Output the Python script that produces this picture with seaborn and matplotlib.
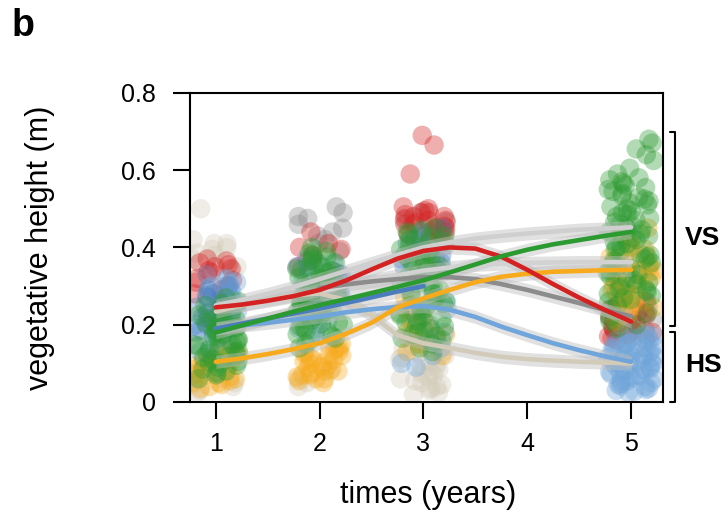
import numpy as np
import pandas as pd
import matplotlib
matplotlib.use("Agg")
import matplotlib.pyplot as plt
import seaborn as sns

# ---- survey times and group colours ----
times = [1, 2, 3, 5]
group_order = ["beige", "darkgrey", "red", "orange", "lightblue", "steelblue", "green"]
group_colors = {
    "beige": "#D3CBB9",
    "darkgrey": "#8C8C8C",
    "red": "#D42222",
    "orange": "#F7AA1C",
    "lightblue": "#6FA5DA",
    "steelblue": "#4B7DBE",
    "green": "#2B9A30",
    "pale1": "#CFCFCF",
    "pale2": "#D2D2D2",
}

# ---- vegetative height of individual plots (cm), per group and time ----
beige_cm = {
    1: [50, 42, 41, 40, 39.5, 38, 37, 36, 35, 34, 41, 38.5, 5, 4, 3, 6, 4.5, 2.5],
    2: [6, 5, 8, 4],
    3: [18, 17, 16, 15.5, 15, 14, 13.5, 13, 12, 11.5, 11, 10, 9.5, 9, 8, 7.5, 7, 6.5,
        6, 5, 4.5, 4, 3.5, 3, 2.5, 2, 12.5, 10.5, 8.5, 5.5, 16.5, 14.5],
    5: [19, 14, 10, 12, 17],
}
darkgrey_cm = {
    2: [50.5, 49, 47.5, 46, 45, 44, 43, 41, 39, 37.5, 48, 42],
    3: [49, 47, 45.5, 44, 42, 40.5, 38, 36, 46.5, 43, 39.5, 37],
    5: [26, 24.5, 23, 21.5, 20, 19, 18, 17, 16, 22, 25, 18.5],
}
red_cm = {
    1: [37, 36, 35.5, 34.5, 34, 33, 32, 31, 30, 29, 28, 35, 33.5, 31.5, 36.5],
    2: [44, 41, 39.5, 38, 36.5, 35, 33.5, 40],
    3: [69, 66.5, 59, 50.5, 50, 49.5, 49, 48.5, 48, 47.5, 47, 46.5, 46, 45.5, 45, 44.5,
        44, 43.5, 43, 49, 48, 47, 46, 45, 44],
    5: [26, 25, 24, 23.5, 23, 22, 21.5, 21, 20, 19.5, 19, 18.5, 18, 17, 16.5, 16, 22.5,
        20.5, 24.5, 17.5],
}
orange_cm = {
    1: [14, 13, 12.5, 12, 11, 10.5, 10, 9.5, 9, 8.5, 8, 7.5, 7, 6.5, 6, 5.5, 5, 4.5, 4,
        3.5, 11.5, 9, 7, 5, 13.5],
    2: [15, 14.5, 14, 13.5, 13, 12.5, 12, 11.5, 11, 10.5, 10, 9.5, 9, 8.5, 8, 7.5, 7,
        6.5, 6, 5.5, 5, 12, 10, 8, 6, 13, 9, 14, 11, 7],
    3: [27, 25, 23, 22, 21, 20, 19, 18, 17, 16, 15, 14, 13, 12, 24, 20.5, 17.5],
    5: [45, 43.5, 42, 41, 40, 39, 38, 37, 36.5, 36, 35, 34.5, 34, 33, 32.5, 32, 31, 30.5,
        30, 29, 28.5, 28, 27, 26.5, 26, 25, 24.5, 24, 23, 22, 21, 20, 35.5, 33.5, 31.5,
        29.5, 27.5, 25.5, 23.5, 37.5, 39.5, 30, 28, 26, 34],
}
lightblue_cm = {
    1: [33, 32, 31.5, 31, 30, 29.5, 29, 28, 27.5, 27, 26, 25.5, 25, 24, 23.5, 23, 22,
        21.5, 21, 20, 19.5, 19, 18, 17, 16, 15, 14, 13, 30.5, 28.5, 26.5, 24.5, 22.5,
        20.5, 18.5],
    2: [37, 36, 35, 34, 33, 32, 31, 30, 29, 28, 27, 26, 25, 24, 23, 22, 21, 20, 19, 18,
        17],
    3: [30, 28, 26, 24, 22, 20, 18, 16, 14, 12, 10, 9],
    5: [18, 17.5, 17, 16.5, 16, 15.5, 15, 14.5, 14, 13.5, 13, 12.5, 12, 11.5, 11, 10.5,
        10, 9.5, 9, 8.5, 8, 7.5, 7, 6.5, 6, 5.5, 5, 4.5, 4, 3.5, 3, 2.5, 16.8, 15.2,
        13.8, 12.2, 10.8, 9.2, 7.8, 6.2, 4.8, 3.2, 14.6, 11.4, 8.6, 5.4, 17.2, 2.8,
        12.8, 10.2, 7.2, 4.2, 15.8, 9.8, 6.8, 13.2, 11.8, 8.2],
}
steelblue_cm = {
    1: [30, 29, 28, 27, 26, 25, 24, 23, 22, 21, 20, 19, 18, 27.5, 24.5, 21.5],
    2: [36, 35, 34, 33, 32, 31, 30, 29, 28, 27, 26, 25, 24, 23],
    3: [45, 44, 43, 42, 41, 40, 39, 38, 37, 36, 35, 34, 33],
}
green_cm = {
    1: [27, 26, 25.5, 25, 24, 23.5, 23, 22, 21.5, 21, 20.5, 20, 19.5, 19, 18.5, 18,
        17.5, 17, 16.5, 16, 15.5, 15, 14.5, 14, 13.5, 13, 12.5, 12, 11.5, 11, 10.5, 10,
        9.5, 9, 8.5, 8, 7.5, 7, 6, 22.5, 19.2, 16.2, 13.2, 10.2, 14.8, 17.8, 11.8, 20.8],
    2: [40, 39, 38.5, 38, 37, 36.5, 36, 35, 34.5, 34, 33, 32.5, 32, 31, 30.5, 30, 29,
        28.5, 28, 27, 26.5, 26, 25, 24.5, 24, 23, 22.5, 22, 21, 20.5, 20, 19, 18.5, 18,
        17, 16.5, 16, 15, 14, 35.5, 31.5, 27.5, 23.5, 19.5, 33.5, 29.5, 25.5, 21.5,
        17.5, 37.5, 28.2, 24.2, 30.2, 34.2, 20.2, 26.2, 32.2],
    3: [45, 44.5, 44, 43, 42.5, 42, 41, 40.5, 40, 39, 38.5, 38, 37, 36.5, 36, 35, 34.5,
        34, 33, 32.5, 32, 31, 30.5, 30, 29, 28.5, 28, 27, 26.5, 26, 25, 24.5, 24, 23,
        22.5, 22, 21, 20.5, 20, 19, 18.5, 18, 17, 16.5, 16, 15, 14, 13, 41.5, 37.5,
        33.5, 29.5, 25.5, 21.5, 17.5, 39.5, 35.5, 31.5, 27.5, 23.5, 19.5, 43.5],
    5: [68, 67, 65.5, 64, 62.5, 60.5, 59, 58, 57.5, 57, 56, 55.5, 55, 54, 53.5, 53, 52,
        51.5, 51, 50, 49.5, 49, 48, 47.5, 47, 46, 45.5, 45, 44, 43.5, 43, 42, 41.5, 41,
        40, 39.5, 39, 38, 37.5, 37, 36, 35.5, 35, 34, 33.5, 33, 32, 31.5, 31, 30, 29.5,
        29, 28, 27.5, 27, 26, 25, 24, 23, 22, 21, 20, 19, 56.5, 52.5, 48.5, 44.5, 40.5,
        36.5, 32.5, 28.5, 54.5, 50.5, 46.5, 42.5, 38.5, 34.5, 30.5, 26.5],
}
heights_cm = {
    "beige": beige_cm, "darkgrey": darkgrey_cm, "red": red_cm, "orange": orange_cm,
    "lightblue": lightblue_cm, "steelblue": steelblue_cm, "green": green_cm,
}

# ---- smoothed trends (fitted height, m) ----
fit_grid = [1.0, 1.25, 1.5, 1.75, 2.0, 2.25, 2.5, 2.75, 3.0,
            3.25, 3.5, 3.75, 4.0, 4.25, 4.5, 4.75, 5.0]
fit_pale1 = [0.250, 0.264, 0.280, 0.298, 0.318, 0.339, 0.360, 0.381, 0.400,
             0.413, 0.423, 0.430, 0.436, 0.441, 0.446, 0.449, 0.452]
fit_pale2 = [0.285, 0.300, 0.315, 0.328, 0.340, 0.348, 0.355, 0.358, 0.360,
             0.361, 0.362, 0.362, 0.362]
fit_red = [0.245, 0.252, 0.262, 0.274, 0.290, 0.314, 0.343, 0.371, 0.391,
           0.400, 0.397, 0.376, 0.342, 0.305, 0.270, 0.238, 0.208]
fit_beige = [0.234, 0.250, 0.264, 0.276, 0.281, 0.264, 0.224, 0.173, 0.152,
             0.140, 0.127, 0.117, 0.111, 0.107, 0.104, 0.102, 0.100]
fit_lightblue = [0.190, 0.198, 0.205, 0.213, 0.221, 0.232, 0.240, 0.246, 0.248,
                 0.239, 0.220, 0.195, 0.173, 0.152, 0.134, 0.118, 0.104]
fit_green = [0.180, 0.198, 0.216, 0.234, 0.251, 0.266, 0.282, 0.298, 0.315,
             0.335, 0.356, 0.377, 0.394, 0.408, 0.419, 0.430, 0.440]
fit_orange = [0.104, 0.113, 0.124, 0.137, 0.152, 0.176, 0.205, 0.245, 0.268,
              0.290, 0.310, 0.324, 0.332, 0.337, 0.339, 0.341, 0.342]
fit_steelblue = [0.190, 0.203, 0.216, 0.229, 0.242, 0.256, 0.271, 0.286, 0.300]
fit_darkgrey = [0.295, 0.304, 0.312, 0.318, 0.323, 0.323, 0.318, 0.305, 0.290,
                0.273, 0.256, 0.238, 0.222]
ribbon_halfwidth = 0.017

fits = [
    ("pale1", fit_grid, fit_pale1),
    ("pale2", fit_grid[4:], fit_pale2),
    ("beige", fit_grid, fit_beige),
    ("lightblue", fit_grid, fit_lightblue),
    ("darkgrey", fit_grid[4:], fit_darkgrey),
    ("steelblue", fit_grid[:9], fit_steelblue),
    ("orange", fit_grid, fit_orange),
    ("red", fit_grid, fit_red),
    ("green", fit_grid, fit_green),
]

# ---- tidy tables ----
pts = pd.DataFrame(
    [(g, t, h / 100.0) for g in group_order for t, hs in heights_cm[g].items() for h in hs],
    columns=["group", "time", "height"],
)
curves = pd.DataFrame(
    [(g, t, y) for g, ts, ys in fits for t, y in zip(ts, ys)],
    columns=["group", "time", "fit"],
)

# ---- figure ----
sns.set_style("ticks")
plt.rcParams["font.family"] = ["Liberation Sans", "DejaVu Sans"]
plt.rcParams.update({"text.color": "black", "axes.labelcolor": "black",
                     "xtick.color": "black", "ytick.color": "black"})

fig = plt.figure(figsize=(7.28, 5.16), dpi=100)
ax = fig.add_axes([0.261, 0.221, 0.650, 0.599])

np.random.seed(11)
sns.stripplot(
    data=pts, x="time", y="height", hue="group", hue_order=group_order,
    palette=group_colors, native_scale=True, jitter=0.23, size=14,
    alpha=0.36, linewidth=0, legend=False, ax=ax, zorder=1,
)

# confidence ribbons under the trend lines
for g, ts, ys in fits:
    ys = np.asarray(ys)
    ax.fill_between(ts, ys - ribbon_halfwidth, ys + ribbon_halfwidth,
                    color="#BDBDBD", alpha=0.45, linewidth=0, zorder=2)

line_order = [g for g, _, _ in fits]
sns.lineplot(
    data=curves, x="time", y="fit", hue="group", hue_order=line_order,
    palette=group_colors, errorbar=None, linewidth=3.3, legend=False, ax=ax,
    zorder=3,
)

ax.set_xlim(0.75, 5.31)
ax.set_ylim(0, 0.8)
ax.set_xticks([1, 2, 3, 4, 5])
ax.set_xticklabels(["1", "2", "3", "4", "5"])
ax.set_yticks([0, 0.2, 0.4, 0.6, 0.8])
ax.set_yticklabels(["0", "0.2", "0.4", "0.6", "0.8"])
ax.tick_params(axis="both", labelsize=18, length=12.5, width=1.5, color="black",
               labelcolor="black")
ax.tick_params(axis="y", pad=12)
ax.tick_params(axis="x", pad=9)
for side in ["left", "right", "top", "bottom"]:
    ax.spines[side].set_visible(True)
    ax.spines[side].set_linewidth(1.5)
    ax.spines[side].set_color("black")

ax.set_xlabel("times (years)", fontsize=22, va="center")
ax.set_ylabel("vegetative height (m)", fontsize=22, va="center")
ax.xaxis.set_label_coords(0.503, -0.30)
ax.yaxis.set_label_coords(-0.317, 0.5)

# brackets marking the two stand types
trans = ax.get_yaxis_transform()
bx, tick_x = 1.024, 1.015
for lo, hi in [(0.197, 0.70), (0.0, 0.181)]:
    ax.plot([tick_x, bx, bx, tick_x], [hi, hi, lo, lo], transform=trans,
            color="black", linewidth=1.5, clip_on=False)
ax.text(1.046, 0.425, "VS", transform=trans, fontsize=19, fontweight="bold",
        ha="left", va="center")
ax.text(1.046, 0.096, "HS", transform=trans, fontsize=19, fontweight="bold",
        ha="left", va="center")

fig.text(0.016, 0.985, "b", fontsize=27, fontweight="bold", ha="left", va="top")

fig.savefig("out.png", dpi=100)
